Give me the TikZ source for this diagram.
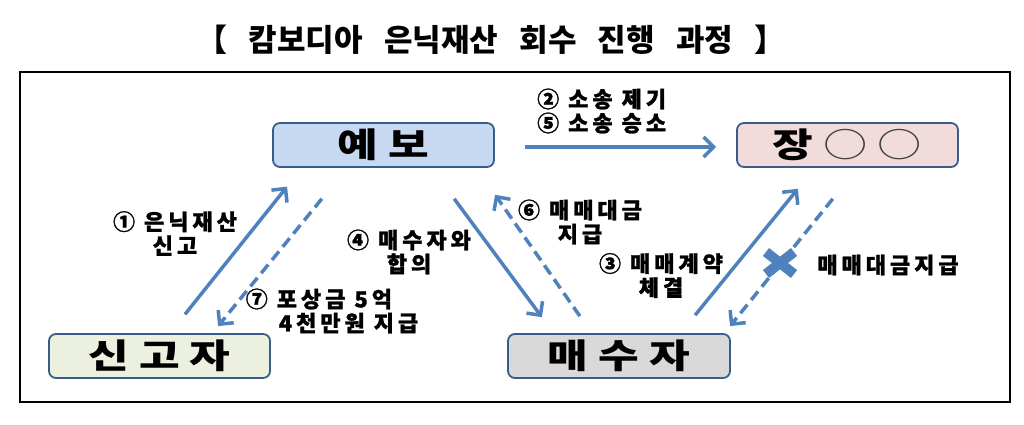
\documentclass[tikz,border=0pt]{standalone}
\usepackage{fontspec}
\setmainfont{Noto Sans CJK KR}
\newfontfamily\titlefont{Noto Sans CJK KR}[WordSpace=3]
\newfontfamily\boxfont{Noto Sans CJK KR}[FakeStretch=1.3,WordSpace=1]
\newfontfamily\labelfont{Noto Sans CJK KR}[LetterSpace=18,FakeBold=1.2]
\usepackage{xcolor}
\usepackage{tikz}
\usetikzlibrary{arrows.meta}
\definecolor{arrowblue}{HTML}{4F81BD}
\definecolor{edgeblue}{HTML}{385D8A}
\definecolor{kdicfill}{HTML}{C6D9F1}
\definecolor{ownerfill}{HTML}{F2DCDB}
\definecolor{informfill}{HTML}{EBF1DE}
\definecolor{buyerfill}{HTML}{D9D9D9}

\begin{document}
\begin{tikzpicture}[x=1pt, y=1pt,
        party/.style={draw=edgeblue, line width=1.8pt, rounded corners=7pt, minimum width=221pt, minimum height=44pt, inner sep=0pt, font=\boxfont\bfseries\fontsize{34}{36}\selectfont},
        flow/.style={draw=arrowblue, line width=3.5pt, -{Straight Barb[length=10pt,width=20pt]}},
        payback/.style={flow, dash pattern=on 11pt off 6pt},
        steplabel/.style={inner sep=0pt, align=center, font=\labelfont\bfseries\fontsize{22}{24}\selectfont}]
        \useasboundingbox (0,0) rectangle (1024,425);

        % Title and frame
        \node[font=\titlefont\bfseries\fontsize{31}{34}\selectfont] (title) at (491,385) {【 캄보디아 은닉재산 회수 진행 과정 】};
        \draw[line width=1.3pt] (20,23) rectangle (1010,353);

        % Parties
        \node[party, fill=kdicfill] (yebo) at (383.5,280) {예 보};
        \node[party, fill=ownerfill] (jang) at (847.5,280) {장 {\mdseries\color{black!75}○ ○}};
        \node[party, fill=informfill] (singoja) at (159.5,69) {신 고 자};
        \node[party, fill=buyerfill, minimum width=222pt] (maesuja) at (619,69) {매 수 자};

        % Solid arrows
        \draw[flow, shorten <=24pt, shorten >=24pt] ([xshift=10.5pt]singoja.north) -- ([xshift=-81.5pt]yebo.south);
        \draw[flow, shorten <=30pt, shorten >=20pt] ([yshift=-2pt]yebo.east) -- ([yshift=-2pt]jang.west);
        \draw[flow, shorten <=38.4pt, shorten >=19.8pt] ([xshift=47.8pt]yebo.south) -- ([xshift=-65.3pt]maesuja.north);
        \draw[flow, shorten <=23.1pt, shorten >=27pt] ([xshift=61.5pt]maesuja.north) -- ([xshift=-32.6pt]jang.south);

        % Dashed arrows (payments)
        \draw[payback, shorten <=39.8pt, shorten >=9pt] ([xshift=-36.5pt]yebo.south) -- ([xshift=52.9pt]singoja.north);
        \draw[payback, shorten <=20.7pt, shorten >=32.8pt] ([xshift=-27.3pt]maesuja.north) -- ([xshift=92.8pt]yebo.south);
        \draw[payback, shorten <=39.7pt, shorten >=9pt] ([xshift=10.2pt]jang.south) -- ([xshift=105.4pt]maesuja.north);

        % Blocked payment
        \coordinate (stop) at (780,162);
        \draw[arrowblue, line width=10pt] (stop) ++(-14,-11) -- ++(28,22) (stop) ++(-14,11) -- ++(28,-22);

        % Step labels
        \node[steplabel, anchor=west, align=left] (suit) at (537,314) {② 소송 제기\\⑤ 소송 승소};
        \node[steplabel] (report) at (175,191.5) {① 은닉재산\\신고};
        \node[steplabel] (deal) at (409,173) {④ 매수자와\\합의};
        \node[steplabel] (price) at (580,203) {⑥ 매매대금\\지급};
        \node[steplabel] (contract) at (661,149.5) {③ 매매계약\\체결};
        \node[steplabel, align=left] (reward) at (332,114) {⑦ 포상금 5억\\\hspace*{33pt}4천만원 지급};
        \node[steplabel] (unpaid) at (888,160) {매매대금지급};
    \end{tikzpicture}
\end{document}
